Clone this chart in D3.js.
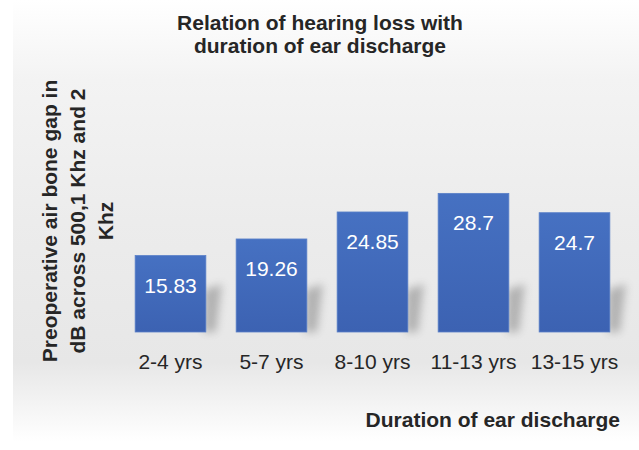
<!DOCTYPE html>
<html>
<head>
<meta charset="utf-8">
<script src="https://cdn.jsdelivr.net/npm/d3@7"></script>
<style>
  body { margin: 0; background: #fff; }
  svg { display: block; font-family: "Liberation Sans", Arial, sans-serif; }
</style>
</head>
<body>
<div id="chart"></div>
<script>
// Chart data
const categories = ["2-4 yrs", "5-7 yrs", "8-10 yrs", "11-13 yrs", "13-15 yrs"];
const values = [15.83, 19.26, 24.85, 28.7, 24.7];
const valueLabels = ["15.83", "19.26", "24.85", "28.7", "24.7"];

const width = 639;
const height = 450;
const baseY = 332;

const svg = d3.select("#chart")
  .append("svg")
  .attr("width", width)
  .attr("height", height);

const defs = svg.append("defs");

// background gradient (white top/bottom, light grey middle)
const bg = defs.append("linearGradient")
  .attr("id", "bg-grad")
  .attr("x1", "0%").attr("y1", "0%")
  .attr("x2", "0%").attr("y2", "100%");
[["0%", "#ffffff"], ["18%", "#f3f3f3"], ["50%", "#ececec"], ["82%", "#e7e7e7"], ["100%", "#ffffff"]]
  .forEach(s => bg.append("stop").attr("offset", s[0]).attr("stop-color", s[1]));

const barGrad = defs.append("linearGradient")
  .attr("id", "bar-grad")
  .attr("x1", "0%").attr("y1", "0%")
  .attr("x2", "0%").attr("y2", "100%");
barGrad.append("stop").attr("offset", "0%").attr("stop-color", "#4671c2");
barGrad.append("stop").attr("offset", "100%").attr("stop-color", "#3c62b2");

const blur = defs.append("filter").attr("id", "shadow-blur")
  .attr("x", "-50%").attr("y", "-50%").attr("width", "200%").attr("height", "200%");
blur.append("feGaussianBlur").attr("stdDeviation", 4);

svg.append("rect")
  .attr("x", 13).attr("y", 0)
  .attr("width", width - 13).attr("height", 442)
  .attr("fill", "url(#bg-grad)");

// Scales
const x = d3.scaleBand()
  .domain(categories)
  .range([120, 625])
  .paddingInner(0.3)
  .paddingOuter(0.15);

const y = d3.scaleLinear()
  .domain([0, 30])
  .range([baseY, baseY - 30 * 4.83]);

// soft shadows behind bars
svg.append("g").selectAll("path")
  .data(values)
  .enter()
  .append("path")
  .attr("d", (d, i) => {
    const x1 = x(categories[i]) + x.bandwidth();
    return `M${x1 - 2},${baseY} L${x1 - 2},${baseY - 42} L${x1 + 16},${baseY - 48} L${x1 + 10},${baseY} Z`;
  })
  .attr("fill", "#6f6f6f")
  .attr("opacity", 0.45)
  .attr("filter", "url(#shadow-blur)");

// Bars
svg.append("g").selectAll("rect")
  .data(values)
  .enter()
  .append("rect")
  .attr("x", (d, i) => x(categories[i]))
  .attr("y", d => y(d))
  .attr("width", x.bandwidth())
  .attr("height", d => baseY - y(d))
  .attr("fill", "url(#bar-grad)")
  .attr("stroke", "#5a80c8")
  .attr("stroke-width", 0.8);

// Value labels inside bars
svg.append("g").selectAll("text")
  .data(values)
  .enter()
  .append("text")
  .attr("x", (d, i) => x(categories[i]) + x.bandwidth() / 2)
  .attr("y", d => y(d) + 37)
  .attr("text-anchor", "middle")
  .attr("font-size", "21px")
  .attr("fill", "#ffffff")
  .text((d, i) => valueLabels[i]);

// Category axis (no line, no ticks)
const xAxis = svg.append("g")
  .attr("transform", `translate(0,${baseY})`)
  .call(d3.axisBottom(x).tickSize(0).tickPadding(0));
xAxis.select(".domain").remove();
xAxis.selectAll("text")
  .attr("y", 37)
  .attr("dy", 0)
  .attr("font-size", "21px")
  .attr("font-family", "Liberation Sans, Arial, sans-serif")
  .attr("fill", "#262626");

// Title
const title = svg.append("text")
  .attr("text-anchor", "middle")
  .attr("font-size", "21px")
  .attr("font-weight", "bold")
  .attr("fill", "#262626");
title.append("tspan").attr("x", 320).attr("y", 30).text("Relation of hearing loss with");
title.append("tspan").attr("x", 320).attr("y", 53).text("duration of ear discharge");

// Y-axis title (three lines, rotated)
const yTitleLines = ["Preoperative air bone gap in", "dB across 500,1 Khz and 2", "Khz"];
svg.append("g").selectAll("text")
  .data(yTitleLines)
  .enter()
  .append("text")
  .attr("transform", (d, i) => `translate(${57 + i * 28},221) rotate(-90)`)
  .attr("text-anchor", "middle")
  .attr("font-size", "21px")
  .attr("font-weight", "bold")
  .attr("fill", "#262626")
  .text(d => d);

// X-axis title
svg.append("text")
  .attr("x", 620)
  .attr("y", 427)
  .attr("text-anchor", "end")
  .attr("font-size", "21px")
  .attr("font-weight", "bold")
  .attr("fill", "#262626")
  .text("Duration of ear discharge");
</script>
</body>
</html>
